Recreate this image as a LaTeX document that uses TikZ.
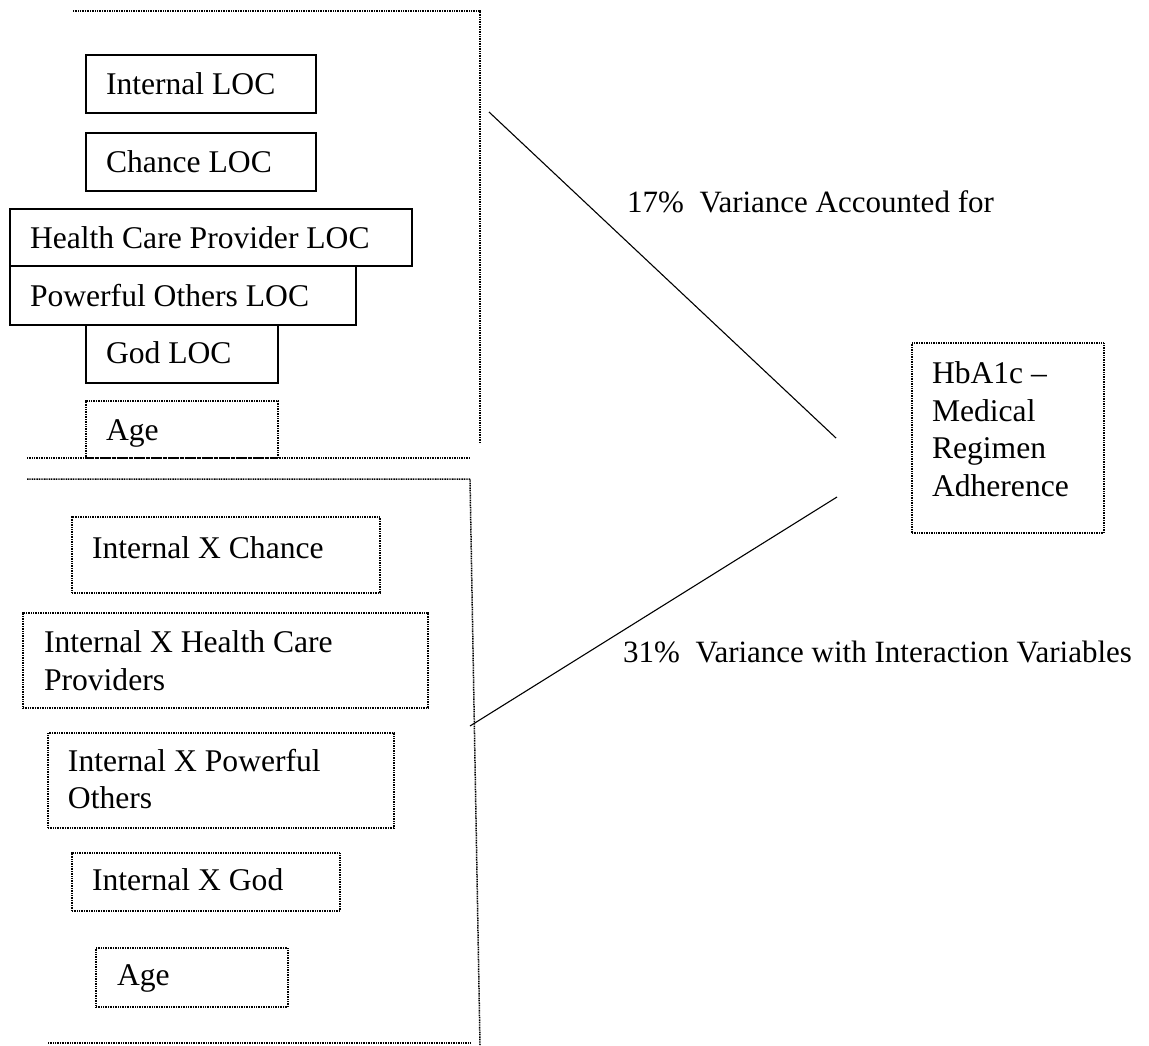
\documentclass[tikz,border=0pt]{standalone}
\usepackage{fontspec}
\setmainfont{Liberation Serif}
\newcommand{\bt}[5]{\begin{minipage}[t][#2][t]{#1}\vspace*{#4}\leftskip=#3\relax\parindent=0pt\noindent #5\end{minipage}}
\tikzset{
  solidbox/.style={draw, line width=1.7pt, inner sep=0pt, outer sep=0pt, anchor=north west, font=\fontsize{31.6}{37.5}\selectfont},
  dotbox/.style={draw, line width=1.5pt, dash pattern=on 1pt off 0.7pt, inner sep=0pt, outer sep=0pt, anchor=north west, font=\fontsize{31.6}{37.5}\selectfont},
  dotline/.style={line width=1.5pt, dash pattern=on 1pt off 0.7pt},
  diag/.style={line width=1.1pt},
  lbl/.style={anchor=base west, inner sep=0pt, font=\fontsize{31}{37.5}\selectfont}
}
\begin{document}
\begin{tikzpicture}[x=1pt,y=-1pt]
\useasboundingbox (0,0) rectangle (1149,1045);
% top group
\node[solidbox] (intloc) at (86,55) {\bt{230pt}{58pt}{20pt}{18pt}{Internal LOC}};
\node[solidbox] (chloc) at (86,133) {\bt{230pt}{58pt}{20pt}{18pt}{Chance LOC}};
\node[solidbox] (hcploc) at (10,209) {\bt{402pt}{57pt}{20pt}{18pt}{Health Care Provider LOC}};
\node[solidbox] (poloc) at (10,266) {\bt{346pt}{59pt}{20pt}{18pt}{Powerful Others LOC}};
\node[solidbox] (godloc) at (86,325) {\bt{192pt}{58pt}{20pt}{17pt}{God LOC}};
\node[dotbox] (age1) at (86,401) {\bt{192pt}{57pt}{20pt}{19pt}{Age}};
\draw[dotline] (73,11) -- (480,11) -- (480,443);
\draw[dotline] (27,458) -- (470,458);
% bottom group
\draw[dotline] (27,479) -- (470,479) -- (480,1045);
\draw[dotline] (48,1043) -- (470,1043);
\node[dotbox] (ixc) at (72,517) {\bt{308pt}{76pt}{20pt}{20pt}{Internal X Chance}};
\node[dotbox] (ixhcp) at (23,613) {\bt{405pt}{95pt}{21pt}{18pt}{Internal X Health Care\\Providers}};
\node[dotbox] (ixpo) at (48,733) {\bt{346pt}{95pt}{20pt}{16pt}{Internal X Powerful\\Others}};
\node[dotbox] (ixg) at (72,853) {\bt{268pt}{58pt}{20pt}{16pt}{Internal X God}};
\node[dotbox] (age2) at (96,948) {\bt{192pt}{59pt}{21pt}{17pt}{Age}};
% outcome
\node[dotbox] (hba) at (912,343) {\bt{192pt}{190pt}{20pt}{19pt}{HbA1c –\\Medical\\Regimen\\Adherence}};
% connectors
\coordinate (l1a) at (489,112);
\coordinate (l1b) at (836,438);
\coordinate (l2a) at (470,726);
\coordinate (l2b) at (837,497);
\draw[diag] (l1a) -- (l1b);
\draw[diag] (l2a) -- (l2b);
\node[lbl] (lab1) at (627,212) {17\%\ \ Variance Accounted for};
\node[lbl] (lab2) at (623,662) {31\%\ \ Variance with Interaction Variables};
\end{tikzpicture}
\end{document}
